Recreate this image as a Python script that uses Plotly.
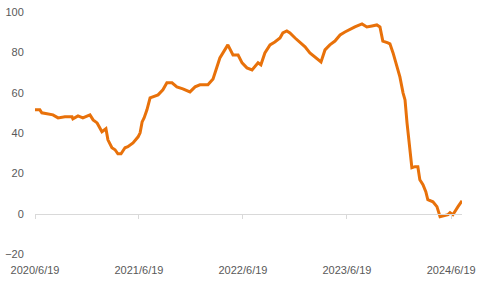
import plotly.graph_objects as go

dates = [
    "2020-06-19", "2020-07-06", "2020-07-13", "2020-07-31", "2020-08-21", "2020-09-08",
    "2020-10-02", "2020-10-27", "2020-10-30", "2020-11-17", "2020-12-04", "2020-12-29",
    "2021-01-09", "2021-01-23", "2021-02-09", "2021-02-23", "2021-03-02", "2021-03-16",
    "2021-03-27", "2021-04-06", "2021-04-17", "2021-05-01", "2021-05-11", "2021-05-29",
    "2021-06-16", "2021-06-23", "2021-06-30", "2021-07-07", "2021-07-17", "2021-07-28",
    "2021-08-07", "2021-08-25", "2021-09-11", "2021-09-25", "2021-10-13", "2021-10-30",
    "2021-11-20", "2021-12-15", "2022-01-02", "2022-01-19", "2022-02-16", "2022-03-06",
    "2022-03-30", "2022-04-17", "2022-04-27", "2022-05-15", "2022-06-02", "2022-06-16",
    "2022-07-03", "2022-07-21", "2022-07-31", "2022-08-11", "2022-08-21", "2022-09-04",
    "2022-09-22", "2022-10-09", "2022-10-27", "2022-11-06", "2022-11-20", "2022-12-01",
    "2022-12-19", "2023-01-05", "2023-01-23", "2023-02-09", "2023-02-27", "2023-03-13",
    "2023-03-20", "2023-04-03", "2023-04-20", "2023-05-08", "2023-05-26", "2023-06-12",
    "2023-06-30", "2023-07-17", "2023-08-11", "2023-08-28", "2023-09-15", "2023-10-02",
    "2023-10-13", "2023-10-23", "2023-11-10", "2023-11-17", "2023-11-28", "2023-12-12",
    "2023-12-22", "2024-01-02", "2024-01-09", "2024-01-16", "2024-01-23", "2024-01-30",
    "2024-02-02", "2024-02-13", "2024-02-23", "2024-03-01", "2024-03-12", "2024-03-22",
    "2024-03-29", "2024-04-16", "2024-04-30", "2024-05-11", "2024-05-28", "2024-06-08",
    "2024-06-15", "2024-06-25", "2024-07-13", "2024-07-27",
]
values = [
    51.5, 51.5, 50.0, 49.5, 49.0, 47.5,
    48.0, 48.0, 47.0, 48.5, 47.5, 49.0,
    46.5, 45.0, 40.6, 42.1, 36.6, 32.7,
    31.7, 29.7, 29.7, 32.7, 33.2, 35.1,
    38.1, 40.1, 45.5, 47.5, 51.5, 57.4,
    57.9, 58.9, 61.4, 64.9, 64.9, 62.9,
    61.9, 60.4, 62.9, 63.9, 63.9, 66.8,
    77.2, 81.2, 83.7, 78.7, 78.7, 74.8,
    72.3, 71.3, 72.8, 74.8, 73.8, 79.7,
    83.7, 85.1, 87.1, 89.6, 90.6, 89.6,
    87.1, 85.1, 82.7, 79.7, 77.7, 76.2,
    75.2, 81.2, 83.7, 85.6, 88.6, 90.1,
    91.6, 92.6, 94.1, 92.6, 93.1, 93.6,
    92.6, 85.6, 84.7, 84.2, 79.7, 72.3,
    67.8, 59.9, 56.4, 45.0, 36.6, 26.7,
    22.8, 23.3, 23.3, 16.8, 14.4, 10.9,
    6.9, 5.9, 3.5, -1.5, -1.0, -0.5,
    0.5, -0.5, 3.5, 6.4,
]
tick_dates = ["2020-06-19", "2021-06-19", "2022-06-19", "2023-06-19", "2024-06-19"]
tick_labels = ["2020/6/19", "2021/6/19", "2022/6/19", "2023/6/19", "2024/6/19"]
y_ticks = [-20, 0, 20, 40, 60, 80, 100]

font = dict(family="Liberation Sans, Arial, sans-serif", size=11, color="#595959")
xrange = [dates[0], dates[-1]]

fig = go.Figure()
fig.add_trace(go.Scatter(x=dates, y=values, mode="lines",
                         line=dict(color="#E8710A", width=3), xaxis="x", yaxis="y",
                         hoverinfo="skip", showlegend=False))
fig.add_trace(go.Scatter(x=[dates[0]], y=[None], mode="lines", xaxis="x2", yaxis="y",
                         showlegend=False, hoverinfo="skip"))

fig.update_layout(
    width=477, height=283,
    margin=dict(l=35, r=15, t=12, b=29),
    paper_bgcolor="white", plot_bgcolor="white",
    font=font,
    xaxis=dict(type="date", range=xrange, anchor="free", position=20 / 120,
               tickvals=tick_dates, showticklabels=False, ticks="outside",
               ticklen=4, tickcolor="#d9d9d9", tickwidth=1,
               showline=True, linecolor="#d9d9d9", linewidth=1,
               showgrid=False, zeroline=False, automargin=False),
    xaxis2=dict(type="date", range=xrange, overlaying="x", anchor="y", side="bottom",
                tickvals=tick_dates, ticktext=tick_labels, ticks="",
                ticklabelstandoff=8, automargin=False,
                showline=False, showgrid=False, zeroline=False, tickfont=font),
    yaxis=dict(range=[-20, 100], tickvals=y_ticks, showgrid=False, zeroline=False,
               showline=False, ticks="outside", ticklen=8, tickcolor="rgba(0,0,0,0)",
               tickfont=font, automargin=False),
)

fig.write_html("out.html")
